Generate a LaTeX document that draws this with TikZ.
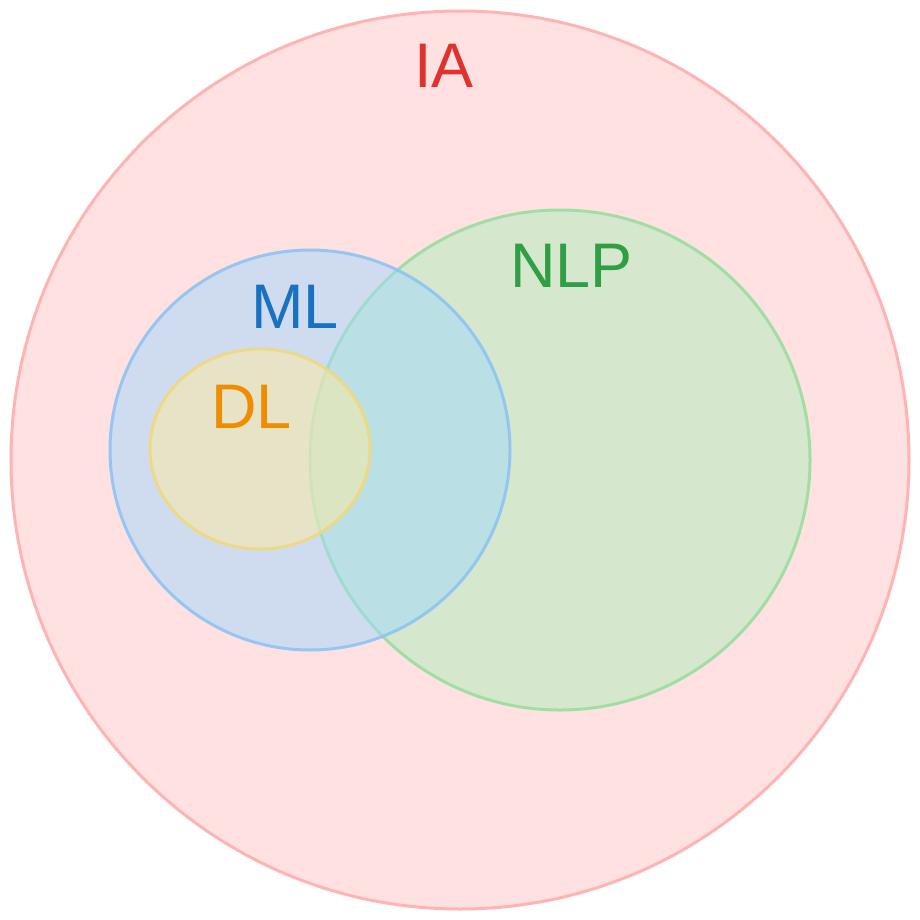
\documentclass[tikz,border=0pt]{standalone}
\usepackage{fontspec}
\setmainfont{Liberation Sans}
\definecolor{iafill}{RGB}{255,225,225}
\definecolor{iadraw}{RGB}{255,180,180}
\definecolor{nlpfill}{RGB}{173,239,187}
\definecolor{nlpdraw}{RGB}{160,222,165}
\definecolor{mlfill}{RGB}{161,217,255}
\definecolor{mldraw}{RGB}{142,196,242}
\definecolor{dlfill}{RGB}{255,235,160}
\definecolor{dldraw}{RGB}{242,216,120}
\definecolor{iatext}{RGB}{224,49,49}
\definecolor{nlptext}{RGB}{47,158,68}
\definecolor{mltext}{RGB}{25,113,194}
\definecolor{dltext}{RGB}{240,140,0}
\begin{document}
\begin{tikzpicture}[x=1pt,y=-1pt,
  setshape/.style={line width=3pt},
  setlabel/.style={anchor=base,inner sep=0pt,font=\fontsize{63}{63}\selectfont}]
\useasboundingbox (0,0) rectangle (920,920);
\fill[white] (0,0) rectangle (920,920);
\path[setshape,fill=iafill,draw=iadraw] (460,460) circle[radius=449];
\path[setshape,fill=nlpfill,fill opacity=0.5,draw=nlpdraw] (560,460) circle[radius=250];
\path[setshape,fill=mlfill,fill opacity=0.5,draw=mldraw,draw opacity=0.9] (310,450) circle[radius=200];
\path[setshape,fill=dlfill,fill opacity=0.5,draw=dldraw,draw opacity=0.85] (260,449) ellipse[x radius=110,y radius=100];
\node[setlabel,text=iatext] (ia) at (444,88) {IA};
\node[setlabel,text=nlptext] (nlp) at (571.5,287) {NLP};
\node[setlabel,text=mltext] (ml) at (295,328) {ML};
\node[setlabel,text=dltext] (dl) at (251.5,428) {DL};
\end{tikzpicture}
\end{document}
